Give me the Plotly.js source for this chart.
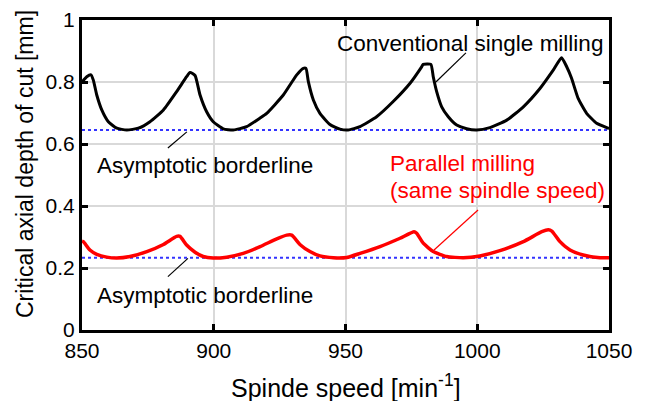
<!DOCTYPE html>
<html>
<head>
<meta charset="utf-8">
<script src="https://cdn.plot.ly/plotly-3.0.1.min.js"></script>
<style>html,body{margin:0;padding:0;background:#fff;}#chart{width:646px;height:401px;}</style>
</head>
<body>
<div id="chart"></div>
<script>
// Conventional single milling (black)
const singleX = [850, 850.5, 851.8, 853.4, 854.3, 855.6, 857.5, 860, 863.2, 867, 871.4, 875.8, 880.9, 885.9, 889.7, 891, 892.9, 894.8, 897.3, 899.8, 903.6, 907.4, 912.5, 917.6, 920.1, 926.4, 931.5, 934, 935, 935.9, 937.8, 940.3, 944.1, 947.9, 951, 955.5, 961.8, 968.1, 974.5, 978.9, 979.5, 982.4, 983.3, 984.6, 986.5, 989, 992.2, 996, 999.8, 1004.8, 1011.2, 1017.5, 1023.8, 1028.9, 1032, 1033.9, 1035.8, 1038.3, 1041.5, 1045.3, 1049.7, 1050];
const singleY = [0.80, 0.805, 0.817, 0.823, 0.806, 0.758, 0.710, 0.672, 0.651, 0.645, 0.651, 0.672, 0.710, 0.769, 0.817, 0.831, 0.821, 0.758, 0.704, 0.672, 0.649, 0.645, 0.656, 0.684, 0.699, 0.758, 0.823, 0.844, 0.844, 0.801, 0.742, 0.699, 0.663, 0.648, 0.645, 0.656, 0.688, 0.737, 0.796, 0.849, 0.857, 0.857, 0.817, 0.769, 0.720, 0.688, 0.661, 0.649, 0.645, 0.653, 0.677, 0.720, 0.779, 0.839, 0.878, 0.850, 0.812, 0.747, 0.699, 0.667, 0.651, 0.650];
// Parallel milling (red)
const parallelX = [850, 850.5, 853, 855.6, 859.4, 863.2, 868.2, 874.6, 880.9, 885.9, 887.2, 889.7, 892.9, 896, 899.8, 904.9, 911.2, 917.6, 923.9, 927.7, 929.6, 932.7, 936.5, 940.3, 945.4, 950.5, 955.5, 963.1, 970.7, 976, 977, 979.5, 983.3, 988.4, 994.7, 1001, 1008.6, 1017.5, 1024.5, 1027, 1028.3, 1031.4, 1035.2, 1040.2, 1046.6, 1050];
const parallelY = [0.287, 0.285, 0.258, 0.244, 0.235, 0.232, 0.237, 0.253, 0.276, 0.302, 0.302, 0.274, 0.251, 0.237, 0.232, 0.235, 0.247, 0.269, 0.294, 0.306, 0.306, 0.276, 0.253, 0.239, 0.233, 0.234, 0.247, 0.269, 0.296, 0.317, 0.312, 0.280, 0.253, 0.237, 0.233, 0.239, 0.256, 0.285, 0.317, 0.323, 0.319, 0.285, 0.258, 0.242, 0.233, 0.233];
// Asymptotic borderlines
const asymX = [850, 1050];
const asymSingle = [0.645, 0.645];
const asymParallel = [0.233, 0.233];
const xTicks = [850, 900, 950, 1000, 1050];
const xTickText = ['850', '900', '950', '1000', '1050'];
const yTicks = [0, 0.2, 0.4, 0.6, 0.8, 1];
const yTickText = ['0', '0.2', '0.4', '0.6', '0.8', '1'];

const FONT = 'Liberation Sans, Arial, sans-serif';
const traces = [
  {x: asymX, y: asymSingle, mode: 'lines', line: {color: '#3333ff', width: 2, dash: 'dot'}, hoverinfo: 'skip'},
  {x: asymX, y: asymParallel, mode: 'lines', line: {color: '#3333ff', width: 2, dash: 'dot'}, hoverinfo: 'skip'},
  {x: singleX, y: singleY, mode: 'lines', line: {color: '#000000', width: 3, shape: 'spline', smoothing: 0.5}},
  {x: parallelX, y: parallelY, mode: 'lines', line: {color: '#ff0000', width: 3.5, shape: 'spline', smoothing: 0.5}}
];
const PL = 82, PR = 609, PT = 20, PB = 330;
const px = v => (v - PL) / (PR - PL);
const py = v => (PB - v) / (PB - PT);
const layout = {
  width: 646, height: 401,
  margin: {l: 82, r: 37, t: 20, b: 71},
  showlegend: false,
  paper_bgcolor: '#ffffff', plot_bgcolor: '#ffffff',
  font: {family: FONT, size: 18, color: '#000'},
  xaxis: {
    range: [850, 1050], tickvals: xTicks, ticktext: xTickText,
    showline: true, linecolor: '#000', linewidth: 3, mirror: 'ticks',
    ticks: 'inside', ticklen: 6, tickwidth: 3, tickcolor: '#000',
    showgrid: true, gridcolor: '#d9d9d9', gridwidth: 2, zeroline: false,
    tickfont: {family: FONT, size: 21, color: '#000'}
  },
  yaxis: {
    range: [0, 1], tickvals: yTicks, ticktext: yTickText,
    showline: true, linecolor: '#000', linewidth: 3, mirror: 'ticks',
    ticks: 'inside', ticklen: 6, tickwidth: 3, tickcolor: '#000',
    showgrid: true, gridcolor: '#d9d9d9', gridwidth: 2, zeroline: false,
    tickfont: {family: FONT, size: 21, color: '#000'}
  },
  shapes: [
    {type: 'line', xref: 'x', yref: 'y', x0: 995.7, y0: 0.894, x1: 984.3, y1: 0.800, line: {color: '#000', width: 1.2}},
    {type: 'line', xref: 'x', yref: 'y', x0: 882.6, y0: 0.587, x1: 889.8, y1: 0.639, line: {color: '#000', width: 1.2}},
    {type: 'line', xref: 'x', yref: 'y', x0: 882.6, y0: 0.172, x1: 890.2, y1: 0.231, line: {color: '#000', width: 1.2}},
    {type: 'line', xref: 'x', yref: 'y', x0: 1000.3, y0: 0.387, x1: 983.6, y1: 0.258, line: {color: '#ff0000', width: 1.2}}
  ],
  annotations: [
    {xref: 'paper', yref: 'paper', x: px(345.5), y: py(386), text: 'Spinde speed [min<sup>-1</sup>]', showarrow: false, xanchor: 'center', yanchor: 'middle', font: {family: FONT, size: 25, color: '#000'}},
    {xref: 'paper', yref: 'paper', x: px(25), y: py(164), text: 'Critical axial depth of cut [mm]', textangle: -90, showarrow: false, xanchor: 'center', yanchor: 'middle', font: {family: FONT, size: 23, color: '#000'}},
    {xref: 'paper', yref: 'paper', x: px(470), y: py(43), text: 'Conventional single milling', showarrow: false, xanchor: 'center', yanchor: 'middle', font: {family: FONT, size: 22.5, color: '#000'}},
    {xref: 'paper', yref: 'paper', x: px(205), y: py(165), text: 'Asymptotic borderline', showarrow: false, xanchor: 'center', yanchor: 'middle', font: {family: FONT, size: 22.5, color: '#000'}},
    {xref: 'paper', yref: 'paper', x: px(205), y: py(295), text: 'Asymptotic borderline', showarrow: false, xanchor: 'center', yanchor: 'middle', font: {family: FONT, size: 22.5, color: '#000'}},
    {xref: 'paper', yref: 'paper', x: px(388), y: py(163), text: 'Parallel milling', showarrow: false, xanchor: 'left', yanchor: 'middle', font: {family: FONT, size: 22.5, color: '#ff0000'}},
    {xref: 'paper', yref: 'paper', x: px(388), y: py(190), text: '(same spindle speed)', showarrow: false, xanchor: 'left', yanchor: 'middle', font: {family: FONT, size: 22.5, color: '#ff0000'}}
  ]
};
Plotly.newPlot('chart', traces, layout, {staticPlot: true, displayModeBar: false});
</script>
</body>
</html>
